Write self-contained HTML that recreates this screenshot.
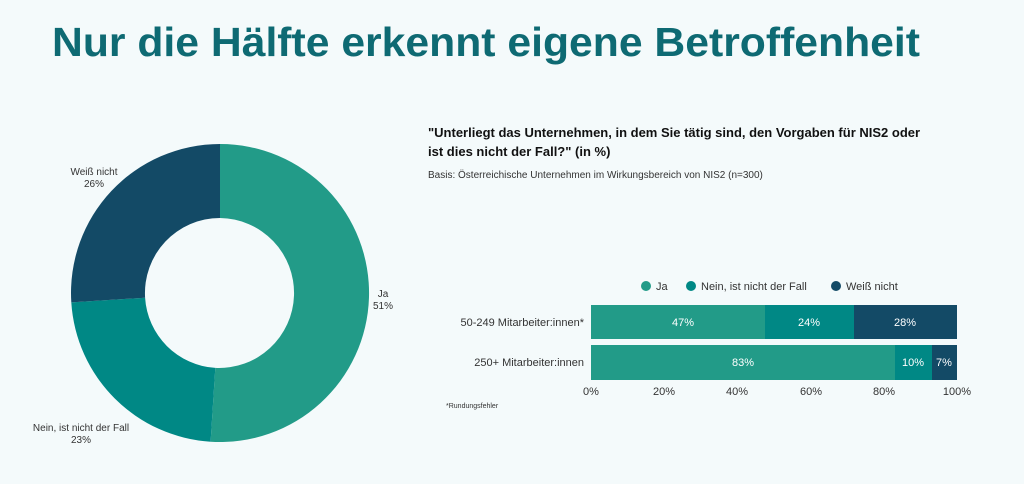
<!DOCTYPE html>
<html><head><meta charset="utf-8"><style>
html,body{margin:0;padding:0;background:#f4fafb;}
body{width:1024px;height:484px;overflow:hidden;position:relative;font-family:"Liberation Sans",sans-serif;}
</style></head><body>
<svg width="1024" height="484" viewBox="0 0 1024 484" xmlns="http://www.w3.org/2000/svg" style="position:absolute;left:0;top:0">
<rect width="1024" height="484" fill="#f4fafb"/>
<text x="52" y="56" font-family="Liberation Sans, sans-serif" font-weight="bold" font-size="41" fill="#0e6a73" textLength="868" lengthAdjust="spacingAndGlyphs">Nur die Hälfte erkennt eigene Betroffenheit</text>
<path d="M220 144 A149 149 0 1 1 210.6 441.7 L215.3 367.9 A75 75 0 1 0 220 218 Z" fill="#229b88"/>
<path d="M210.6 441.7 A149 149 0 0 1 71.3 302.4 L145.1 297.7 A75 75 0 0 0 215.3 367.9 Z" fill="#008885"/>
<path d="M71.3 302.4 A149 149 0 0 1 220 144 L220 218 A75 75 0 0 0 145.1 297.7 Z" fill="#134a66"/>
<g font-size="10" fill="#333" text-anchor="middle">
<text x="94" y="175">Weiß nicht</text><text x="94" y="187">26%</text>
<text x="383" y="297">Ja</text><text x="383" y="309">51%</text>
<text x="81" y="431">Nein, ist nicht der Fall</text><text x="81" y="443">23%</text>
</g>
<text x="428" y="137" font-size="13" font-weight="bold" fill="#111">"Unterliegt das Unternehmen, in dem Sie tätig sind, den Vorgaben für NIS2 oder</text>
<text x="428" y="156" font-size="13" font-weight="bold" fill="#111">ist dies nicht der Fall?" (in %)</text>
<text x="428" y="178" font-size="10" fill="#333">Basis: Österreichische Unternehmen im Wirkungsbereich von NIS2 (n=300)</text>
<g font-size="11" fill="#333">
<circle cx="646" cy="286" r="5" fill="#229b88"/><text x="656" y="290">Ja</text>
<circle cx="691" cy="286" r="5" fill="#008885"/><text x="701" y="290">Nein, ist nicht der Fall</text>
<circle cx="836" cy="286" r="5" fill="#134a66"/><text x="846" y="290">Weiß nicht</text>
</g>
<rect x="591" y="305" width="174" height="34" fill="#229b88"/>
<rect x="765" y="305" width="89" height="34" fill="#008885"/>
<rect x="854" y="305" width="103" height="34" fill="#134a66"/>
<rect x="591" y="345" width="304" height="35" fill="#229b88"/>
<rect x="895" y="345" width="37" height="35" fill="#008885"/>
<rect x="932" y="345" width="25" height="35" fill="#134a66"/>
<g font-size="11" fill="#fff" text-anchor="middle">
<text x="683" y="326">47%</text><text x="809" y="326">24%</text><text x="905" y="326">28%</text>
<text x="743" y="366">83%</text><text x="913" y="366">10%</text><text x="944" y="366">7%</text>
</g>
<g font-size="11" fill="#333" text-anchor="end">
<text x="584" y="326">50-249 Mitarbeiter:innen*</text>
<text x="584" y="366">250+ Mitarbeiter:innen</text>
</g>
<g font-size="11" fill="#333" text-anchor="middle">
<text x="591" y="395">0%</text><text x="664" y="395">20%</text><text x="737" y="395">40%</text>
<text x="811" y="395">60%</text><text x="884" y="395">80%</text><text x="957" y="395">100%</text>
</g>
<text x="446" y="408" font-size="7" fill="#333">*Rundungsfehler</text>
</svg>
</body></html>
